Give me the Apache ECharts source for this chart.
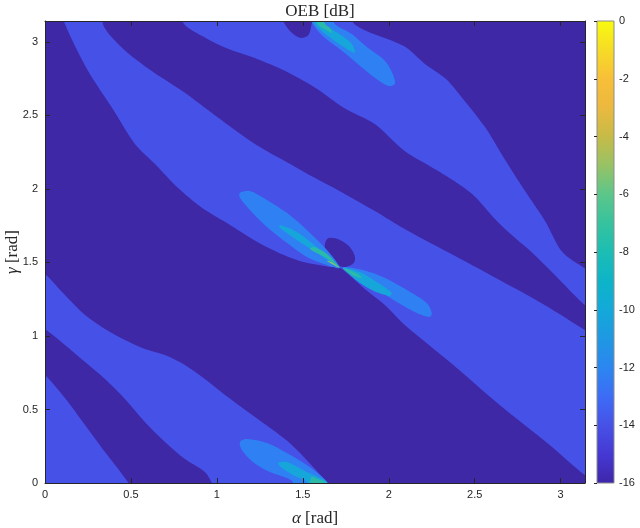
<!DOCTYPE html>
<html>
<head>
<meta charset="utf-8">
<title>OEB [dB]</title>
<script src="https://cdn.jsdelivr.net/npm/echarts@6/dist/echarts.min.js"></script>
<style>
html,body{margin:0;padding:0;background:#fff;}
#chart{width:640px;height:528px;}
</style>
</head>
<body>
<div id="chart"></div>
<script>
// filled contour levels (dB) and their fill colours
const levelValues = [-16, -15, -14, -13, -12, -11];
const levelColors = ['#3e28a5', '#4651e7', '#2f80f2', '#17a6da', '#2bbaa8', '#8cc46a'];

// colour bar (parula) stops
const cbarValues = [-16, -15, -14, -13, -12, -11, -10, -9, -8, -7, -6, -5, -4, -3, -2, -1, 0];
const cbarColors = ['#3e26a8', '#4538d2', '#4751e6', '#3d6cf6', '#2c86f0', '#1f98e2', '#13a9d9',
  '#0db4c8', '#1cbdb4', '#36c39e', '#5cc68a', '#98c265', '#c7bb47', '#ebb93f', '#f8bf38', '#f6dc26', '#f9fb0e'];

// contour region outlines, [alpha, gamma] in rad
const fullArea = [[-0.2, -0.2], [3.4, -0.2], [3.4, 3.4], [-0.2, 3.4]];
const bandUpper = [[0.77,3.25],[1.78,3.25],[1.80,3.12],[2.09,2.97],[2.21,2.85],[2.33,2.75],[2.44,2.60],[2.56,2.42],[2.67,2.21],[2.79,1.99],[2.91,1.78],[3.01,1.57],[3.14,1.46],[3.25,1.38],[3.25,1.12],[3.14,1.21],[2.994,1.381],[2.83,1.57],[2.75,1.65],[2.63,1.78],[2.48,1.97],[2.29,2.12],[2.09,2.26],[1.92,2.44],[1.74,2.55],[1.57,2.69],[1.40,2.80],[1.22,2.89],[1.05,2.96],[0.93,3.03],[0.81,3.12]];
const bandMiddle = [[0.09,3.25],[0.36,3.25],[0.337,3.12],[0.448,2.96],[0.564,2.85],[0.68,2.755],[0.814,2.653],[0.93,2.551],[1.047,2.45],[1.221,2.306],[1.395,2.19],[1.57,2.075],[1.744,1.966],[1.919,1.85],[2.093,1.728],[2.343,1.571],[2.645,1.381],[2.907,1.211],[3.14,1.041],[3.25,0.96],[3.25,-0.03],[3.14,0.054],[2.936,0.259],[2.645,0.531],[2.355,0.823],[2.093,1.075],[1.977,1.211],[1.86,1.32],[1.715,1.463],[1.657,1.469],[1.465,1.517],[1.267,1.619],[1.076,1.755],[0.913,1.871],[0.773,2.007],[0.64,2.17],[0.523,2.306],[0.39,2.551],[0.25,2.803],[0.116,3.122]];
const bandLower = [[-0.1,1.5],[0,1.422],[0.116,1.279],[0.233,1.143],[0.349,1.048],[0.465,0.973],[0.581,0.912],[0.698,0.871],[0.814,0.803],[0.93,0.707],[1.047,0.599],[1.238,0.435],[1.436,0.259],[1.645,0],[1.70,-0.08],[1.0,-0.08],[0.971,0],[0.93,0.075],[0.814,0.163],[0.698,0.279],[0.581,0.415],[0.465,0.571],[0.349,0.707],[0.233,0.823],[0.116,0.939],[0,1.048],[-0.1,1.12]];
const bandCorner = [[-0.1,0.82],[0,0.735],[0.116,0.578],[0.233,0.395],[0.349,0.211],[0.465,0.034],[0.50,-0.05],[-0.1,-0.1]];
const holeTop = [[1.366,3.2],[1.395,3.122],[1.436,3.061],[1.483,3.027],[1.529,3.041],[1.547,3.095],[1.55,3.2]];
const holeMid = [[1.657,1.667],[1.715,1.653],[1.773,1.605],[1.802,1.544],[1.797,1.497],[1.750,1.469],[1.703,1.483],[1.657,1.531],[1.628,1.592],[1.634,1.646]];
const lobeTop = [[1.541,3.2],[1.558,3.122],[1.628,3.027],[1.727,2.939],[1.820,2.850],[1.919,2.755],[1.994,2.701],[2.035,2.714],[2.023,2.782],[1.977,2.871],[1.878,2.959],[1.785,3.054],[1.686,3.122],[1.66,3.2]];
const lobeMidUL = [[1.134,1.973],[1.192,1.986],[1.291,1.925],[1.407,1.837],[1.523,1.721],[1.640,1.585],[1.715,1.463],[1.640,1.483],[1.523,1.537],[1.407,1.633],[1.291,1.741],[1.192,1.857],[1.134,1.939]];
const lobeMidLR = [[1.733,1.469],[1.849,1.449],[1.965,1.401],[2.105,1.313],[2.221,1.224],[2.250,1.156],[2.238,1.129],[2.163,1.156],[2.047,1.231],[1.890,1.347],[1.773,1.435]];
const lobeBottom = [[1.134,0.279],[1.174,0.299],[1.291,0.272],[1.407,0.204],[1.523,0.122],[1.599,0.054],[1.640,0.007],[1.67,-0.06],[1.43,-0.06],[1.442,0.007],[1.407,0.034],[1.308,0.075],[1.209,0.143],[1.145,0.224]];
const coreTop = [[1.55,3.2],[1.57,3.122],[1.645,3.041],[1.727,2.973],[1.802,2.925],[1.785,2.986],[1.703,3.061],[1.628,3.122],[1.61,3.2]];
const coreMidUL = [[1.366,1.755],[1.465,1.707],[1.581,1.605],[1.715,1.463],[1.581,1.565],[1.465,1.653],[1.366,1.735]];
const coreMidLR = [[1.733,1.463],[1.831,1.435],[1.936,1.361],[2.017,1.293],[2.006,1.272],[1.901,1.313],[1.802,1.388]];
const coreBottom = [[1.355,0.136],[1.407,0.143],[1.523,0.075],[1.599,0.034],[1.640,0.007],[1.66,-0.06],[1.51,-0.06],[1.523,0.007],[1.442,0.054],[1.372,0.109]];
const tipTop = [[1.58,3.2],[1.587,3.122],[1.634,3.082],[1.669,3.061],[1.657,3.095],[1.628,3.122],[1.62,3.2]];
const tipMidUL = [[1.541,1.592],[1.628,1.537],[1.715,1.463],[1.640,1.558],[1.564,1.605]];
const tipMidLR = [[1.733,1.463],[1.820,1.422],[1.843,1.395],[1.785,1.415]];
const tipBottom = [[1.55,0.04],[1.58,0.03],[1.64,0.0],[1.66,-0.06],[1.54,-0.06]];
const tipCentre = [[1.64,1.51],[1.715,1.463],[1.67,1.50]];

// drawing order: lower levels first
const regions = [
  { level: 0, pts: fullArea },
  { level: 1, pts: bandUpper },
  { level: 1, pts: bandMiddle },
  { level: 1, pts: bandLower },
  { level: 1, pts: bandCorner },
  { level: 0, pts: holeTop },
  { level: 0, pts: holeMid },
  { level: 2, pts: lobeTop },
  { level: 2, pts: lobeMidUL },
  { level: 2, pts: lobeMidLR },
  { level: 2, pts: lobeBottom },
  { level: 3, pts: coreTop },
  { level: 3, pts: coreMidUL },
  { level: 3, pts: coreMidLR },
  { level: 3, pts: coreBottom },
  { level: 4, pts: tipTop },
  { level: 4, pts: tipMidUL },
  { level: 4, pts: tipMidLR },
  { level: 4, pts: tipBottom },
  { level: 5, pts: tipCentre }
];

const tickFont = { color: '#262626', fontSize: 11, fontFamily: 'Liberation Sans, Arial, sans-serif' };
const serif = 'Liberation Serif, DejaVu Serif, serif';
const axisCol = '#262626';

function halfLabel(v) {
  const k = v / 0.5;
  return Math.abs(k - Math.round(k)) < 1e-9 ? String(v) : '';
}

function mainAxis(pos, showLabel) {
  return {
    gridIndex: 0, type: 'value', min: 0, max: Math.PI, interval: 0.5, position: pos, z: 10,
    axisLine: { show: true, onZero: false, lineStyle: { color: axisCol, width: 1 } },
    axisTick: { show: true, inside: true, length: 5, lineStyle: { color: axisCol } },
    axisLabel: Object.assign({ show: showLabel, formatter: halfLabel, showMaxLabel: false, margin: 6 }, tickFont),
    splitLine: { show: false }
  };
}

const chart = echarts.init(document.getElementById('chart'));

const xBottom = mainAxis('bottom', true);
xBottom.name = '{i|α} [rad]';
xBottom.nameLocation = 'middle';
xBottom.nameGap = 27;
xBottom.nameMoveOverlap = false;
xBottom.nameTextStyle = { fontFamily: serif, fontSize: 17, color: '#262626',
  rich: { i: { fontFamily: serif, fontSize: 17, fontStyle: 'italic', color: '#262626' } } };
const yLeft = mainAxis('left', true);
yLeft.axisLabel.margin = 7;
yLeft.name = '{i|γ} [rad]';
yLeft.nameLocation = 'middle';
yLeft.nameGap = 24;
yLeft.nameMoveOverlap = false;
yLeft.nameTextStyle = { fontFamily: serif, fontSize: 17, color: '#262626',
  rich: { i: { fontFamily: serif, fontSize: 17, fontStyle: 'italic', color: '#262626' } } };

const option = {
  animation: false,
  backgroundColor: '#fff',
  title: {
    text: 'OEB [dB]', left: 315, top: -2, textAlign: 'center',
    textStyle: { fontFamily: serif, fontSize: 17, fontWeight: 'normal', color: '#262626' }
  },
  grid: [
    { left: 45, top: 21, width: 540, height: 462, outerBoundsMode: 'none', containLabel: false },
    { left: 597, top: 21, width: 17, height: 462, outerBoundsMode: 'none', containLabel: false }
  ],
  xAxis: [
    xBottom,
    mainAxis('top', false),
    { gridIndex: 1, type: 'value', min: 0, max: 1, show: false }
  ],
  yAxis: [
    yLeft,
    mainAxis('right', false),
    {
      gridIndex: 1, type: 'value', min: -16, max: 0, interval: 2, position: 'right', z: 10,
      axisLine: { show: false },
      axisTick: { show: true, inside: true, length: 3, lineStyle: { color: axisCol } },
      axisLabel: Object.assign({ margin: 5 }, tickFont),
      splitLine: { show: false }
    }
  ],
  series: [
    {
      type: 'custom',
      xAxisIndex: 0, yAxisIndex: 0,
      clip: true,
      data: regions.map(function (r, i) { return [i, levelValues[r.level]]; }),
      renderItem: function (params, api) {
        const r = regions[api.value(0)];
        return {
          type: 'polygon',
          shape: { points: r.pts.map(function (p) { return api.coord(p); }), smooth: 0.3 },
          style: { fill: levelColors[r.level], stroke: null }
        };
      }
    },
    {
      type: 'custom',
      xAxisIndex: 2, yAxisIndex: 2,
      data: [[0, 0]],
      renderItem: function (params, api) {
        const p0 = api.coord([0, 0]);
        const p1 = api.coord([1, -16]);
        const stops = cbarValues.map(function (v, i) {
          return { offset: (v + 16) / 16, color: cbarColors[i] };
        });
        return {
          type: 'rect',
          shape: { x: p0[0], y: p0[1], width: p1[0] - p0[0], height: p1[1] - p0[1] },
          style: {
            fill: new echarts.graphic.LinearGradient(0, 1, 0, 0, stops),
            stroke: '#8c8c8c', lineWidth: 1
          }
        };
      }
    }
  ]
};

chart.setOption(option);
</script>
</body>
</html>
